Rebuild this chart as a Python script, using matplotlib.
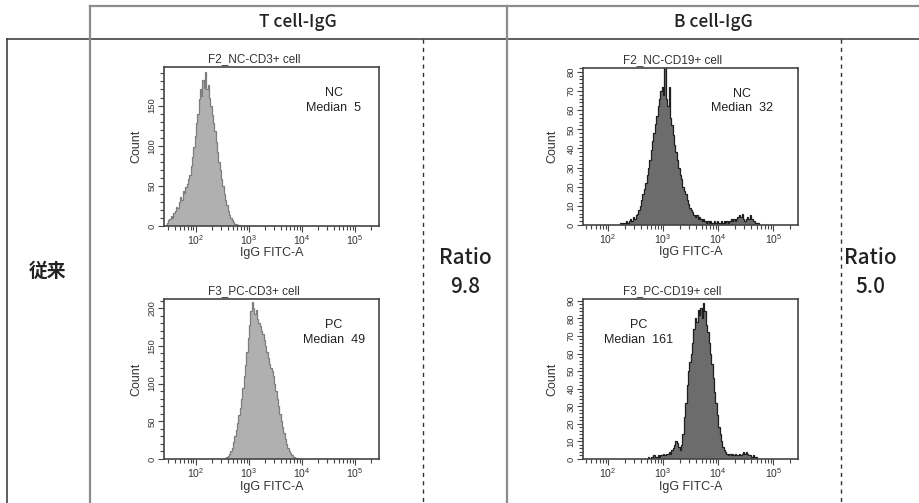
import numpy as np
import matplotlib.pyplot as plt
from matplotlib.lines import Line2D
from matplotlib.ticker import MultipleLocator, LogLocator, NullFormatter

plt.rcParams['font.family'] = ['Liberation Sans', 'DejaVu Sans']

# ---- data (counts per bin, bins 0.025 decade wide, start = log10 of first edge)
BIN = 0.025

t_nc_start = 1.45
t_nc_counts = [4, 7, 9, 12, 10, 16, 19, 24, 22, 30, 36, 33, 44, 41, 48, 52, 58, 64,
               75, 86, 98, 112, 128, 140, 158, 170, 162, 182, 172, 192, 170, 176,
               160, 150, 138, 128, 118, 104, 92, 80, 70, 58, 50, 40, 32, 26, 19,
               14, 10, 7, 5, 3, 2, 1, 1, 0]

t_pc_start = 2.55
t_pc_counts = [1, 2, 4, 6, 10, 15, 22, 30, 38, 48, 58, 68, 80, 94, 110, 124, 142,
               160, 178, 196, 208, 200, 192, 198, 186, 180, 176, 170, 166, 158, 150,
               142, 134, 126, 120, 116, 110, 100, 90, 80, 70, 60, 50, 42, 34, 27,
               20, 15, 11, 8, 5, 3, 2, 1, 1, 0]

b_nc_start = 2.20
b_nc_counts = [0, 1, 0, 1, 1, 2, 1, 2, 3, 2, 4, 3, 5, 6, 8, 10, 13, 16, 19, 22, 26,
               30, 34, 39, 44, 48, 53, 57, 62, 66, 70, 72, 68, 83, 66, 62, 72, 56,
               52, 47, 42, 38, 34, 30, 26, 24, 20, 18, 16, 13, 11, 9, 8, 7, 5, 4, 5,
               3, 4, 3, 2, 3, 2, 1, 2, 1, 2, 1, 1, 2, 1, 2, 1, 1, 2, 1, 2, 1, 2, 1,
               2, 3, 2, 3, 2, 3, 4, 5, 4, 6, 3, 2, 3, 4, 3, 5, 3, 2, 2, 1, 1, 1, 0]

b_pc_start = 2.70
b_pc_counts = [0, 1, 0, 1, 1, 2, 1, 1, 2, 1, 2, 2, 3, 2, 3, 3, 4, 3, 5, 6, 8, 10,
               9, 7, 5, 8, 14, 24, 32, 42, 50, 55, 60, 66, 74, 80, 78, 85, 82, 86,
               80, 89, 84, 76, 72, 66, 60, 54, 46, 38, 32, 25, 18, 14, 10, 7, 5, 4,
               3, 2, 3, 2, 3, 2, 3, 2, 2, 3, 2, 3, 4, 3, 4, 3, 2, 2, 1, 2, 1, 1, 0]

x_tick_vals = [1e2, 1e3, 1e4, 1e5]
x_tick_labels = [r'$\mathregular{10^{2}}$', r'$\mathregular{10^{3}}$',
                 r'$\mathregular{10^{4}}$', r'$\mathregular{10^{5}}$']

col_titles = ['T cell-IgG', 'B cell-IgG']
row_title = '従来'
ratios = ['9.8', '5.0']

W, H = 919, 503
fig = plt.figure(figsize=(W / 100, H / 100), dpi=100)


def fx(x):
    return x / W


def fy(y):
    return 1 - y / H


def hline(x0, x1, y, **kw):
    fig.add_artist(Line2D([fx(x0), fx(x1)], [fy(y), fy(y)], transform=fig.transFigure, **kw))


def vline(x, y0, y1, **kw):
    fig.add_artist(Line2D([fx(x), fx(x)], [fy(y0), fy(y1)], transform=fig.transFigure, **kw))


# table grid
hline(90, 919, 6, color='#8c8c8c', lw=1.6)
hline(7, 919, 39, color='#333333', lw=1.1)
vline(7, 39, 503, color='#333333', lw=1.1)
vline(90, 6, 503, color='#8c8c8c', lw=1.6)
vline(507, 6, 503, color='#8c8c8c', lw=1.6)
vline(423, 39, 503, color='#333333', lw=1.0, ls=(0, (3, 3)))
vline(841, 39, 503, color='#333333', lw=1.0, ls=(0, (3, 3)))

cjk = ['Noto Sans CJK JP', 'DejaVu Sans']
fig.text(fx(298), fy(22), col_titles[0], ha='center', va='center', fontsize=12.5, family=cjk,
         weight='medium', color='#222')
fig.text(fx(713), fy(22), col_titles[1], ha='center', va='center', fontsize=12.5, family=cjk,
         weight='medium', color='#222')
fig.text(fx(47), fy(271), row_title, ha='center', va='center', fontsize=13.5, family=cjk,
         weight='bold', color='#222')
for xc, r in zip([465, 870], ratios):
    fig.text(fx(xc), fy(258), 'Ratio', ha='center', va='center', fontsize=15, family=cjk,
             weight='medium', color='#222')
    fig.text(fx(xc), fy(287), r, ha='center', va='center', fontsize=15, family=cjk,
             weight='medium', color='#222')


def hist_panel(left, top, right, bottom, xlim, ymax, major, minor, start, counts,
               fill, edge, title, title_x, note, note_x, xlab_x, ylab_x):
    ax = fig.add_axes([fx(left), fy(bottom), (right - left) / W, (bottom - top) / H])
    edges = 10 ** (start + BIN * np.arange(len(counts) + 1))
    ax.stairs(counts, edges, fill=True, color=fill, lw=0)
    ax.stairs(counts, edges, color=edge, lw=0.9)
    ax.set_xscale('log')
    ax.set_xlim(10 ** xlim[0], 10 ** xlim[1])
    ax.set_ylim(0, ymax)
    ax.set_xticks(x_tick_vals)
    ax.set_xticklabels(x_tick_labels)
    ax.xaxis.set_minor_locator(LogLocator(base=10, subs=np.arange(2, 10), numticks=20))
    ax.xaxis.set_minor_formatter(NullFormatter())
    ax.yaxis.set_major_locator(MultipleLocator(major))
    ax.yaxis.set_minor_locator(MultipleLocator(minor))
    ax.tick_params(which='both', direction='out', color='#444', width=0.8,
                   labelsize=7.5, pad=0.5, labelcolor='#333')
    ax.tick_params(which='major', length=4.5)
    ax.tick_params(which='minor', length=3)
    ax.tick_params(axis='y', labelrotation=90, labelsize=6.8, pad=1)
    for lab in ax.get_yticklabels():
        lab.set_va('center')
    for s in ax.spines.values():
        s.set_color('#444')
        s.set_linewidth(1.2)
    ax.set_xlabel('IgG FITC-A', fontsize=9, color='#333')
    ax.xaxis.set_label_coords(xlab_x, -0.135)
    ax.set_ylabel('Count', fontsize=9, color='#333')
    ax.yaxis.set_label_coords(ylab_x, 0.5)
    ax.text(title_x, 1.01, title, transform=ax.transAxes, ha='center', va='bottom',
            fontsize=8.5, color='#333')
    ax.text(note_x, 0.79, note, transform=ax.transAxes, ha='center', va='center',
            fontsize=9, color='#222', linespacing=1.3)
    return ax


hist_panel(164, 67, 379, 226, (1.40, 5.45), 198, 50, 10, t_nc_start, t_nc_counts,
           '#b0b0b0', '#7d7d7d', 'F2_NC-CD3+ cell', 0.42, 'NC\nMedian  5', 0.79, 0.5, -0.10)
hist_panel(164, 299, 379, 459, (1.40, 5.45), 212, 50, 10, t_pc_start, t_pc_counts,
           '#b0b0b0', '#7d7d7d', 'F3_PC-CD3+ cell', 0.42, 'PC\nMedian  49', 0.79, 0.5, -0.10)
hist_panel(583, 68, 798, 225, (1.545, 5.45), 82, 10, 2, b_nc_start, b_nc_counts,
           '#6c6c6c', '#1e1e1e', 'F2_NC-CD19+ cell', 0.415, 'NC\nMedian  32', 0.74, 0.5, -0.115)
hist_panel(583, 299, 798, 459, (1.545, 5.45), 91, 10, 2, b_pc_start, b_pc_counts,
           '#6c6c6c', '#1e1e1e', 'F3_PC-CD19+ cell', 0.415, 'PC\nMedian  161', 0.26, 0.5, -0.115)

fig.savefig('out.png', dpi=100, facecolor='white')
